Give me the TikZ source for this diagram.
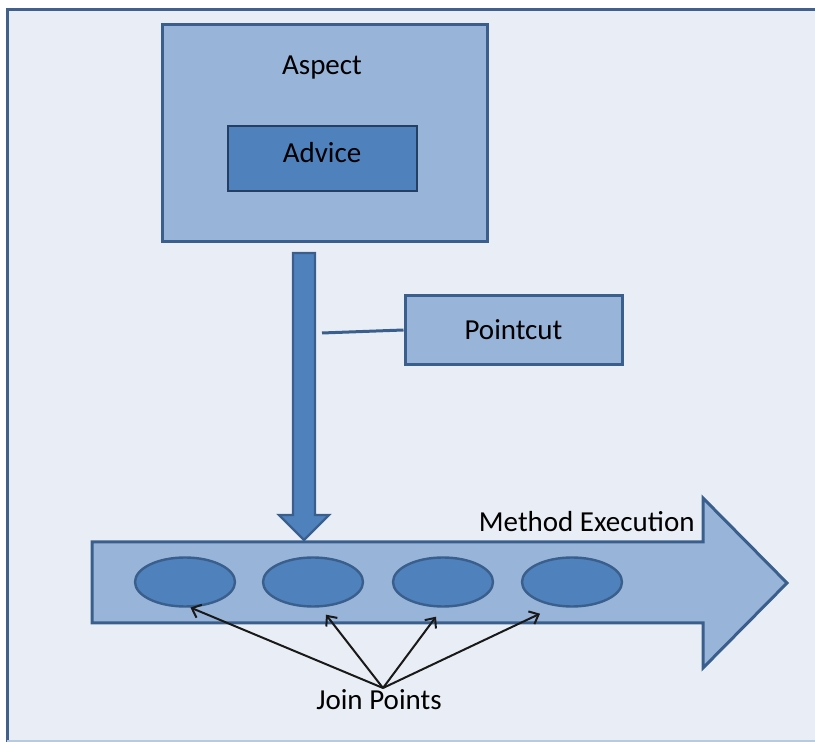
\documentclass[tikz,border=0pt]{standalone}
\usepackage{fontspec}
\setmainfont{Carlito}
\usepackage{tikz}
\usetikzlibrary{calc,positioning,shapes.geometric,arrows.meta}
\definecolor{pagebg}{HTML}{E9EEF6}
\definecolor{framecol}{HTML}{42618A}
\definecolor{lightfill}{HTML}{98B4D9}
\definecolor{darkfill}{HTML}{4F81BD}
\definecolor{edgecol}{HTML}{3A5F8C}
\definecolor{deepedge}{HTML}{243F62}

\begin{document}
\begin{tikzpicture}[x=0.5pt,y=-0.5pt,
  font=\fontsize{14.5}{17}\selectfont,
  box/.style={draw=edgecol,line width=1.5pt,fill=lightfill,rectangle,inner sep=0pt},
  innerbox/.style={draw=deepedge,line width=1pt,fill=darkfill,rectangle,inner sep=0pt},
  joinpt/.style={ellipse,draw=edgecol,line width=1.2pt,fill=darkfill,
    minimum width=50pt,minimum height=24.5pt,inner sep=0pt},
  lbl/.style={text=black,inner sep=1pt},
  pointer/.style={-{Straight Barb[length=4pt,width=7pt,line width=1pt]},line width=1pt,black!90}]
\useasboundingbox (0,0) rectangle (815,742);
\fill[white] (0,0) rectangle (815,742);
\fill[pagebg] (7,10) rectangle (815,742);
% outline
\draw[framecol,line width=1.5pt] (7,742) -- (7,10) -- (815,10);
\draw[lightfill!70,line width=1pt] (7,741) -- (815,741);

\node[box,minimum width=162.5pt,minimum height=108.5pt] (aspect) at (324.5,133.5) {};
\node[lbl,anchor=base] (aspecttxt) at (322,75) {Aspect};
\node[innerbox,minimum width=94.5pt,minimum height=32.5pt] (advice) at (322.5,158.5) {};
\node[lbl,anchor=base] at (322,163) {Advice};

\node[box,minimum width=108.5pt,minimum height=34.5pt,lbl] (pointcut) at (513.5,330) {Pointcut};

% shaft down to the execution arrow
\draw[fill=darkfill,draw=edgecol,line width=1.2pt,line join=miter]
  (293,253) -- (315,253) -- (315,515) -- (329,515) -- (304,540)
  -- (279,515) -- (293,515) -- cycle;
\coordinate (pc) at (322,333);
\draw[edgecol,line width=1.5pt] (pc) -- (pointcut.west);

% execution arrow
\draw[fill=lightfill,draw=edgecol,line width=1.5pt,line join=miter]
  (92,542) -- (703,542) -- (703,498) -- (787,583) -- (703,668)
  -- (703,623) -- (92,623) -- cycle;
\node[lbl,anchor=base east] (exec) at (697,532) {Method Execution};

\foreach \i/\x in {1/185,2/313,3/443,4/572}
  \node[joinpt] (e\i) at (\x,582) {};

\node[lbl,anchor=base] (jp) at (379,710) {Join Points};
\coordinate (jpo) at (383,688);
\draw[pointer] (jpo) -- (e1.-78);
\draw[pointer] (jpo) -- ($(e2.south)+(13,7)$);
\draw[pointer] (jpo) -- ($(e3.south)+(-7,9)$);
\draw[pointer] (jpo) -- ($(e4.south)+(-32,6)$);
\end{tikzpicture}
\end{document}
